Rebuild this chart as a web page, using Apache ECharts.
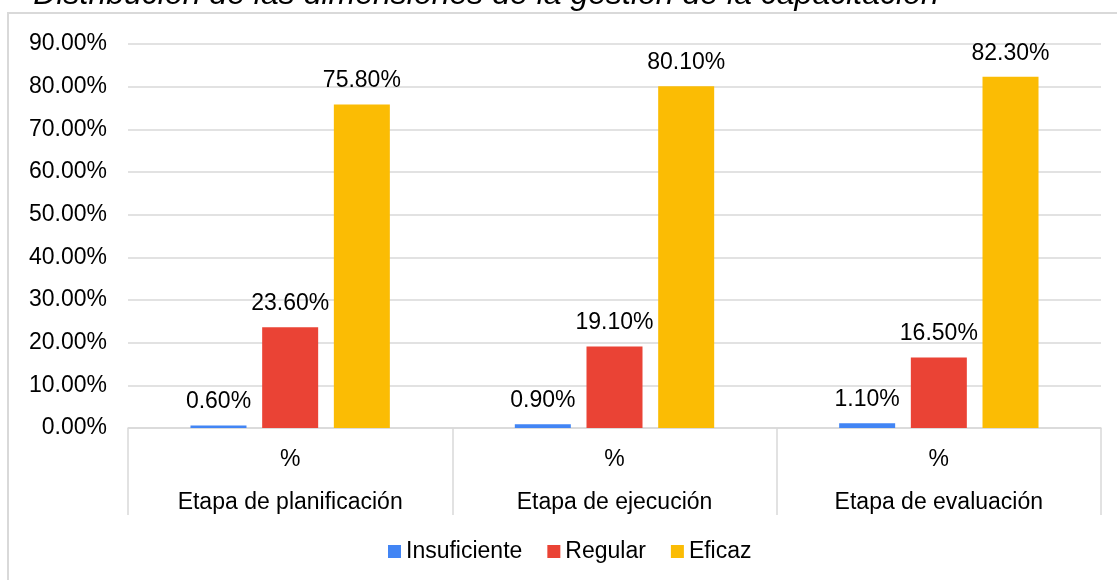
<!DOCTYPE html>
<html>
<head>
<meta charset="utf-8">
<script src="https://cdn.jsdelivr.net/npm/echarts@6/dist/echarts.min.js"></script>
<style>
  html, body { margin: 0; padding: 0; background: #ffffff; }
  #chart { width: 1117px; height: 580px; }
</style>
</head>
<body>
<div id="chart"></div>
<script>
const titleText = 'Distribución de las dimensiones de la gestión de la capacitación';
const categories = ['Etapa de planificación', 'Etapa de ejecución', 'Etapa de evaluación'];
const subLabels = ['%', '%', '%'];
const seriesNames = ['Insuficiente', 'Regular', 'Eficaz'];
const insuficiente = [0.6, 0.9, 1.1];
const regular = [23.6, 19.1, 16.5];
const eficaz = [75.8, 80.1, 82.3];
const colors = ['#4285F4', '#EA4335', '#FBBC04'];

const FONT = '"Liberation Sans", Arial, sans-serif';
const chart = echarts.init(document.getElementById('chart'), null, { renderer: 'canvas' });

function barSeries(name, data, color) {
  return {
    name: name,
    type: 'bar',
    data: data,
    barWidth: 56,
    barGap: '28%',
    itemStyle: { color: color },
    label: {
      show: true,
      position: 'top',
      distance: 12,
      fontFamily: FONT,
      fontSize: 23,
      color: '#000000',
      formatter: p => p.value.toFixed(2) + '%'
    },
    emphasis: { disabled: true }
  };
}

chart.setOption({
  animation: false,
  backgroundColor: '#ffffff',
  textStyle: { fontFamily: FONT },
  graphic: [
    {
      type: 'rect',
      shape: { x: 8, y: 13, width: 1300, height: 800 },
      style: { fill: 'none', stroke: '#d9d9d9', lineWidth: 2 },
      silent: true,
      z: -10
    },
    {
      type: 'text',
      x: 486,
      y: 11,
      style: {
        text: titleText,
        font: 'italic 32px ' + FONT,
        fill: '#000000',
        align: 'center',
        verticalAlign: 'bottom'
      },
      silent: true
    }
  ],
  legend: {
    data: seriesNames,
    left: 388,
    top: 540,
    padding: 0,
    itemWidth: 13,
    itemHeight: 13,
    itemGap: 25,
    icon: 'rect',
    textStyle: { fontFamily: FONT, fontSize: 23, color: '#000000' },
    selectedMode: false
  },
  grid: {
    left: 128,
    right: 16,
    top: 44,
    bottom: 152,
    containLabel: false,
    outerBoundsMode: 'none'
  },
  xAxis: {
    type: 'category',
    data: categories,
    axisLine: { show: true, lineStyle: { color: '#d9d9d9', width: 1.5 } },
    axisTick: { show: true, interval: 0, length: 87, lineStyle: { color: '#d9d9d9', width: 1.5 } },
    axisLabel: {
      interval: 0,
      margin: 10,
      fontFamily: FONT,
      fontSize: 23,
      lineHeight: 43,
      color: '#000000',
      formatter: (v, i) => subLabels[i] + '\n' + v
    },
    splitLine: { show: false }
  },
  yAxis: {
    type: 'value',
    min: 0,
    max: 90,
    interval: 10,
    axisLine: { show: false },
    axisTick: { show: false },
    axisLabel: {
      margin: 21,
      fontFamily: FONT,
      fontSize: 23,
      color: '#000000',
      formatter: v => v.toFixed(2) + '%'
    },
    splitLine: { show: true, lineStyle: { color: '#d9d9d9', width: 1.5 } }
  },
  series: [
    barSeries(seriesNames[0], insuficiente, colors[0]),
    barSeries(seriesNames[1], regular, colors[1]),
    barSeries(seriesNames[2], eficaz, colors[2])
  ]
});
</script>
</body>
</html>
